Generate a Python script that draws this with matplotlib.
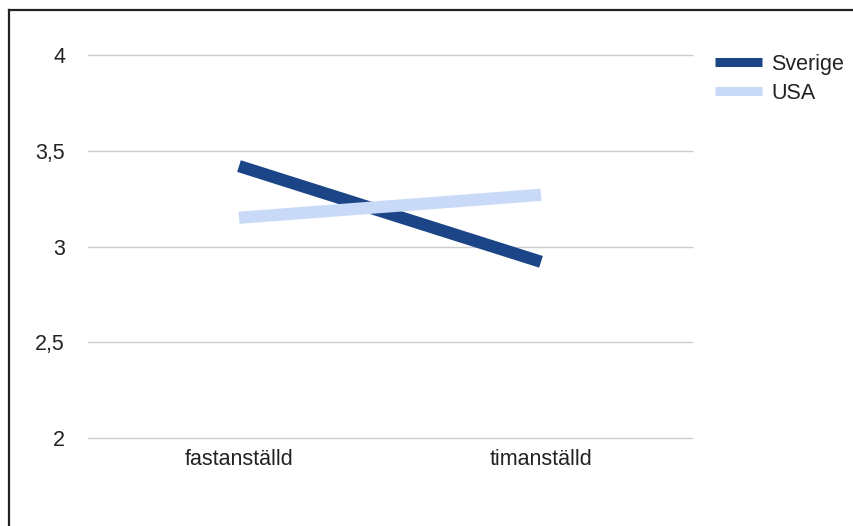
#! /usr/bin/env python3

import matplotlib
matplotlib.use('Agg')
import matplotlib.pyplot as plt
from matplotlib.lines import Line2D

# data
categories = ['fastanställd', 'timanställd']
sverige = [3.42, 2.92]
usa = [3.15, 3.27]
yticks = [2, 2.5, 3, 3.5, 4]
ytick_labels = ['2', '2,5', '3', '3,5', '4']

W, H = 854, 526
fig = plt.figure(figsize=(W / 100, H / 100), dpi=100)
plt.rcParams['font.family'] = ['Liberation Sans', 'DejaVu Sans']
fs = 15.5
txt = '#222222'

# plot area in pixels
left, right, top, bottom = 88, 692, 55, 438
ax = fig.add_axes([left / W, 1 - bottom / H, (right - left) / W, (bottom - top) / H])

x = range(len(categories))
ax.plot(x, sverige, color='#1c4587', lw=8.8, solid_capstyle='butt', zorder=3)
ax.plot(x, usa, color='#c9daf8', lw=8.8, solid_capstyle='butt', zorder=4)

ax.set_xlim(-0.5, len(categories) - 0.5)
ax.set_ylim(2, 4)
ax.set_yticks(yticks)
ax.set_yticklabels(ytick_labels)
ax.set_xticks(list(x))
ax.set_xticklabels(categories)
ax.tick_params(length=0, labelsize=fs, colors=txt)
ax.tick_params(axis='y', pad=16.5)
ax.tick_params(axis='x', pad=8)
for s in ax.spines.values():
	s.set_visible(False)
ax.grid(axis='y', color='#cccccc', lw=1)
ax.set_axisbelow(True)
# keep the gridlines at 2 and 4 from being clipped at the edges
for ln in ax.get_ygridlines():
	ln.set_clip_on(False)

# legend
handles = [Line2D([], [], color='#1c4587', lw=6.5, solid_capstyle='butt'),
	Line2D([], [], color='#c9daf8', lw=6.5, solid_capstyle='butt')]
fig.legend(handles, ['Sverige', 'USA'], loc='upper left',
	bbox_to_anchor=(715 / W, 1 - 54 / H), frameon=False, borderpad=0,
	borderaxespad=0, fontsize=fs, handlelength=2.2, handletextpad=0.42,
	labelspacing=0.36, labelcolor=txt)

# frame on the left and top edges
fig.add_artist(Line2D([9.5 / W, 9.5 / W], [0, 1 - 9.5 / H], color='#222222', lw=1.6))
fig.add_artist(Line2D([9.5 / W, 1], [1 - 9.5 / H, 1 - 9.5 / H], color='#222222', lw=1.6))

fig.savefig('out.png', dpi=100)
